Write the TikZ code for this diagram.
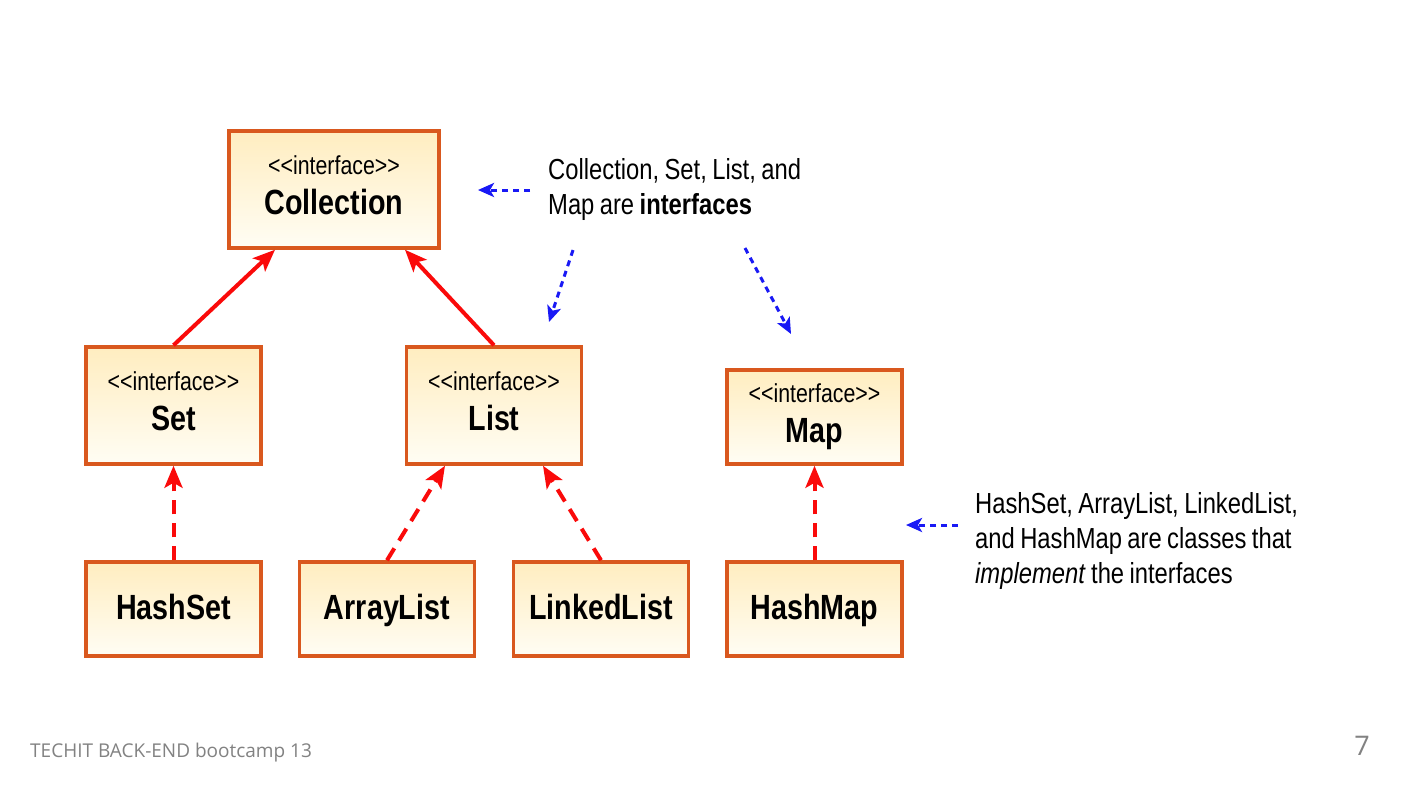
\documentclass[tikz,border=0pt]{standalone}
\usepackage{fontspec}
\setmainfont{Liberation Sans}[FakeStretch=0.82, WordSpace=0.82]
\newfontfamily\footfont{Open Sans}
\usetikzlibrary{arrows.meta}

\definecolor{boxline}{RGB}{217,88,30}
\definecolor{boxtop}{RGB}{255,237,192}
\definecolor{boxbot}{RGB}{255,253,244}
\definecolor{extred}{RGB}{250,10,10}
\definecolor{noteblue}{RGB}{25,25,245}
\definecolor{footgray}{RGB}{130,130,130}

\newcommand{\stereo}{{\fontsize{26}{40}\selectfont <\kern0pt<interface>\kern0pt>}}
\newcommand{\namefont}{\fontsize{35}{40}\selectfont\bfseries}

\begin{document}
\begin{tikzpicture}[x=1pt,y=-1pt,
  umlbox/.style={draw=boxline, line width=3.5pt, top color=boxtop, bottom color=boxbot,
    inner sep=0pt, minimum width=175pt, align=center},
  iface/.style={umlbox, font=\fontsize{26}{40}\selectfont, text width=170pt,
    text height=20pt, text depth=50pt, minimum height=117pt},
  cls/.style={umlbox, font=\namefont, text height=26pt, text depth=6pt, minimum height=94pt},
  extends/.style={draw=extred, line width=4pt, -{Stealth[length=22pt,width=18pt,inset=5pt]}},
  impl/.style={extends, dash pattern=on 14pt off 9pt},
  note/.style={font=\fontsize{29}{35}\selectfont, text width=360pt, align=flush left,
    inner sep=0pt, anchor=base west},
  notearrow/.style={draw=noteblue, line width=3pt, dash pattern=on 6pt off 5pt,
    -{Stealth[length=16pt,width=14pt,inset=4pt]}},
  footer/.style={font=\footfont\fontsize{19}{21}\selectfont, text=footgray, inner sep=0pt}]

  % page
  \fill[white] (0,0) rectangle (1403,787);

  % interfaces
  \node[iface, minimum width=210pt] (coll) at (334,189.5) {\stereo\\\namefont Collection};
  \node[iface] (set) at (173.5,405.5) {\stereo\\\namefont Set};
  \node[iface] (list) at (494,405.5) {\stereo\\\namefont List};
  \node[iface, minimum height=94pt] (map) at (814.5,417) {\stereo\\\namefont Map};

  % classes
  \node[cls] (hashset) at (173.5,609) {HashSet};
  \node[cls] (arraylist) at (387,609) {ArrayList};
  \node[cls] (linkedlist) at (601,609) {LinkedList};
  \node[cls] (hashmap) at (814.5,609) {HashMap};

  % inheritance
  \draw[extends] (set.north) -- ([xshift=-59pt]coll.south);
  \draw[extends] (list.north) -- ([xshift=71pt]coll.south);
  \draw[impl] (hashset.north) -- (set.south);
  \draw[impl] (arraylist.north) -- ([xshift=-49pt]list.south);
  \draw[impl] (linkedlist.north) -- ([xshift=49pt]list.south);
  \draw[impl] (hashmap.north) -- (map.south);

  % notes
  \node[note] (note1) at (548,179) {Collection, Set, List, and\\Map are \textbf{interfaces}};
  \node[note] (note2) at (975,513) {HashSet, ArrayList, LinkedList,\\and HashMap are classes that\\\textit{implement} the interfaces};

  \coordinate (tipA) at (478,190);
  \coordinate (tipB) at (549,322);
  \coordinate (tipC) at (791,334);
  \coordinate (tipD) at (906,525);
  \draw[notearrow] ([xshift=-18pt,yshift=-11pt]note1.base west) -- (tipA);
  \draw[notearrow] ([xshift=25pt,yshift=-71pt]note1.base west) -- (tipB);
  \draw[notearrow] ([xshift=197pt,yshift=-69pt]note1.base west) -- (tipC);
  \draw[notearrow] ([xshift=-17pt,yshift=-12pt]note2.base west) -- (tipD);

  % footer
  \node[footer, anchor=base west] (foot) at (30,757) {TECHIT BACK-END bootcamp 13};
  \node[footer, anchor=base east, font=\footfont\fontsize{27}{30}\selectfont] (pagenum) at (1370,755) {7};

\end{tikzpicture}
\end{document}
